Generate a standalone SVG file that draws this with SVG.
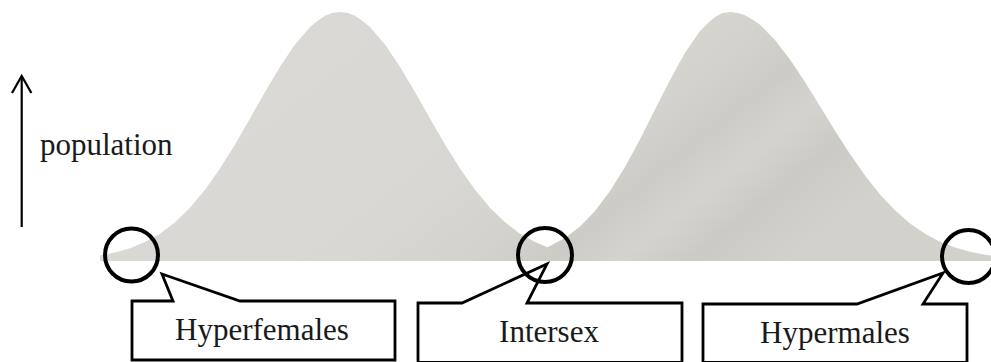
<svg xmlns="http://www.w3.org/2000/svg" width="991" height="362" viewBox="0 0 991 362">
<style>
.lbl{font-family:"Liberation Serif","Times New Roman",serif;font-size:31px;fill:#1a1a1a}
.box{fill:#ffffff;stroke:#000000;stroke-width:2.8;stroke-linejoin:miter}
.ring{fill:none;stroke:#000000;stroke-width:4}
.axis{fill:none;stroke:#000000;stroke-width:2.2;stroke-linecap:butt}
</style>
<defs>
<linearGradient id="bellFill" x1="0" y1="0" x2="1" y2="0.35">
<stop offset="0" stop-color="#dcdad6"/>
<stop offset="0.55" stop-color="#d9d7d3"/>
<stop offset="0.68" stop-color="#d4d2cd"/>
<stop offset="0.76" stop-color="#cdcbc6"/>
<stop offset="0.83" stop-color="#d5d3ce"/>
<stop offset="0.9" stop-color="#cccac5"/>
<stop offset="1" stop-color="#d3d1cc"/>
</linearGradient>
</defs>
<rect width="991" height="362" fill="#ffffff"/>
<g id="curve">
<path fill="url(#bellFill)" stroke="none" d="M100,261 L100,255.4 L115,252.5 L130,248.3 L145,242.1 L160,233.7 L175,222.3 L190,207.7 L205,189.7 L220,168.5 L235,144.4 L250,118.4 L265,92 L280,66.7 L295,44.4 L310,27 L318,20.4 L325,15.8 L332,13 L340,12 L348,13 L355,15.8 L362,20.4 L370,27 L385,44.4 L400,66.7 L415,92 L430,118.4 L445,144.4 L460,168.5 L475,189.7 L490,207.7 L505,222.3 L520,233.7 L535,242.1 L547.5,247.3 L550,246.1 L565,237.9 L580,226.4 L595,210.9 L610,191.1 L625,166.9 L640,139.3 L655,109.6 L670,79.9 L685,52.8 L700,31.1 L708,23 L715,16.9 L722,13.2 L730,12 L738,12.9 L745,15.3 L752,19.3 L760,24.8 L775,40 L790,59.5 L805,82.1 L820,106.3 L835,130.7 L850,154.1 L865,175.5 L880,194.4 L895,210.3 L910,223.4 L925,233.8 L940,241.7 L955,247.5 L970,251.7 L985,254.7 L991,255.6 L991,261 Z"/>
</g>
<g id="connectors">
<line class="axis" x1="21.7" y1="227" x2="21.7" y2="76"/>
<polyline class="axis" points="12,93 21.7,76 31.4,93"/>
</g>
<g id="axis-label">
<text class="lbl" x="40" y="155">population</text>
</g>
<g id="hyperfemales">
<path class="box" d="M132,301 L173,301 L162,274 L240,301 L395,301 L395,360 L132,360 Z"/>
<text class="lbl" x="262" y="340" text-anchor="middle">Hyperfemales</text>
</g>
<g id="intersex">
<path class="box" d="M418,303 L462,303 L547,264 L527,303 L682,303 L682,362.5 L418,362.5 Z"/>
<text class="lbl" x="549" y="342" text-anchor="middle">Intersex</text>
</g>
<g id="hypermales">
<path class="box" d="M703,304 L857,304 L943,273 L923,304 L967,304 L967,362.5 L703,362.5 Z"/>
<text class="lbl" x="835" y="343" text-anchor="middle">Hypermales</text>
</g>
<g id="markers">
<circle class="ring" cx="131.5" cy="255" r="26.5"/>
<circle class="ring" cx="545" cy="255" r="27"/>
<circle class="ring" cx="968.5" cy="256.5" r="26.5"/>
</g>
</svg>
